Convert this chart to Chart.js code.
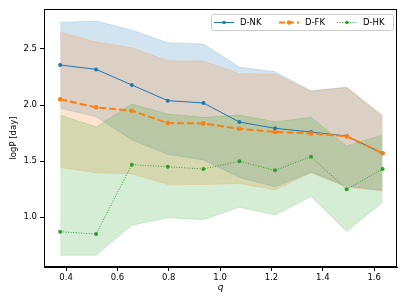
<!DOCTYPE html>
<html>
<head>
<meta charset="utf-8">
<script src="https://cdn.jsdelivr.net/npm/chart.js@4.4.0/dist/chart.umd.min.js"></script>
<style>
  html, body { margin: 0; padding: 0; background: #fff; }
  #wrap { width: 407px; height: 305px; }
</style>
</head>
<body>
<div id="wrap"><canvas id="c" width="407" height="305"></canvas></div>
<script>
// mass ratio bins
const q = [0.377, 0.517, 0.656, 0.796, 0.935, 1.075, 1.214, 1.354, 1.493, 1.633];

const nkMid = [2.357, 2.318, 2.179, 2.039, 2.018, 1.848, 1.792, 1.759, 1.723, 1.570];
const nkHi  = [2.738, 2.750, 2.670, 2.556, 2.545, 2.339, 2.297, 2.128, 2.158, 1.899];
const nkLo  = [1.970, 1.895, 1.690, 1.560, 1.510, 1.354, 1.270, 1.400, 1.277, 1.235];

const fkMid = [2.051, 1.979, 1.949, 1.839, 1.836, 1.788, 1.759, 1.747, 1.720, 1.569];
const fkHi  = [2.649, 2.563, 2.512, 2.396, 2.393, 2.280, 2.277, 2.122, 2.158, 1.905];
const fkLo  = [1.443, 1.396, 1.384, 1.292, 1.290, 1.300, 1.241, 1.396, 1.265, 1.235];

const hkMid = [0.869, 0.848, 1.467, 1.449, 1.429, 1.497, 1.417, 1.539, 1.247, 1.429];
const hkHi  = [1.911, 1.806, 2.009, 1.920, 1.890, 1.910, 1.851, 1.890, 1.634, 1.732];
const hkLo  = [0.658, 0.658, 0.926, 0.994, 0.976, 1.087, 1.018, 1.183, 0.872, 1.131];

const xTicks = [0.4, 0.6, 0.8, 1.0, 1.2, 1.4, 1.6];
const yTicks = [1.0, 1.5, 2.0, 2.5];
const seriesNames = ['D-NK', 'D-FK', 'D-HK'];

const BLUE = '#1f77b4', ORANGE = '#ff7f0e', GREEN = '#2ca02c';
const FONT = '"DejaVu Sans", sans-serif';

const pts = arr => arr.map((v, i) => ({ x: q[i], y: v }));

function band(data, color, fill) {
  return {
    data: pts(data), borderColor: color, borderWidth: 0.8, backgroundColor: color,
    pointRadius: 0, fill: fill, tension: 0, isBand: true
  };
}
function line(data, color, width, dash, radius) {
  return {
    data: pts(data), borderColor: color, backgroundColor: color, borderWidth: width,
    borderDash: dash, pointRadius: radius, pointBorderWidth: 0, pointBackgroundColor: color,
    fill: false, tension: 0
  };
}

// frame + axis labels + legend
const extras = {
  id: 'extras',
  afterDraw(chart) {
    const { ctx, chartArea: a } = chart;
    ctx.save();
    ctx.strokeStyle = '#000';
    ctx.lineWidth = 1;
    ctx.strokeRect(a.left + 0.5, a.top + 0.5, a.right - a.left - 1, a.bottom - a.top - 1);

    ctx.fillStyle = '#000';
    ctx.font = 'italic 9px ' + FONT;
    ctx.textAlign = 'center';
    ctx.textBaseline = 'middle';
    ctx.fillText('q', (a.left + a.right) / 2, 288);

    ctx.font = '8.5px ' + FONT;
    ctx.translate(14, (a.top + a.bottom) / 2);
    ctx.rotate(-Math.PI / 2);
    ctx.fillText('logP [day]', 0, 0);
    ctx.restore();

    // legend
    ctx.save();
    const bx = 211, by = 14, bw = 182, bh = 16;
    ctx.beginPath();
    ctx.roundRect(bx + 0.5, by + 0.5, bw, bh, 2);
    ctx.fillStyle = 'rgba(255,255,255,0.8)';
    ctx.fill();
    ctx.strokeStyle = '#cccccc';
    ctx.lineWidth = 1;
    ctx.stroke();
    const items = [
      { x: 214, color: BLUE, w: 1, dash: [], r: 1.8 },
      { x: 279, color: ORANGE, w: 2, dash: [6, 3], r: 2.2 },
      { x: 337, color: GREEN, w: 1, dash: [1, 1.6], r: 1.8 }
    ];
    const cy = by + bh / 2 + 0.5;
    items.forEach((it, i) => {
      ctx.beginPath();
      ctx.setLineDash(it.dash);
      ctx.strokeStyle = it.color;
      ctx.lineWidth = it.w;
      ctx.moveTo(it.x, cy);
      ctx.lineTo(it.x + 20, cy);
      ctx.stroke();
      ctx.setLineDash([]);
      ctx.beginPath();
      ctx.fillStyle = it.color;
      ctx.arc(it.x + 10, cy, it.r, 0, Math.PI * 2);
      ctx.fill();
      ctx.fillStyle = '#000';
      ctx.font = '8.5px ' + FONT;
      ctx.textAlign = 'left';
      ctx.textBaseline = 'middle';
      ctx.fillText(seriesNames[i], it.x + 26, cy);
    });
    ctx.restore();
  }
};

new Chart(document.getElementById('c'), {
  type: 'line',
  data: {
    datasets: [
      band(hkLo, 'rgba(44,160,44,0.2)', false),
      band(hkHi, 'rgba(44,160,44,0.2)', 0),
      band(fkLo, 'rgba(255,127,14,0.2)', false),
      band(fkHi, 'rgba(255,127,14,0.2)', 2),
      band(nkLo, 'rgba(31,119,180,0.2)', false),
      band(nkHi, 'rgba(31,119,180,0.2)', 4),
      line(hkMid, GREEN, 1, [1, 1.6], 2),
      line(fkMid, ORANGE, 2, [7, 3], 2.3),
      line(nkMid, BLUE, 1, [], 2)
    ]
  },
  options: {
    responsive: false,
    animation: false,
    devicePixelRatio: 1,
    layout: { padding: { top: 9, right: 10, left: 0, bottom: 0 } },
    plugins: {
      legend: { display: false },
      tooltip: { enabled: false },
      filler: { drawTime: 'beforeDatasetsDraw', propagate: false }
    },
    scales: {
      x: {
        type: 'linear', min: 0.314, max: 1.689,
        afterBuildTicks: s => { s.ticks = xTicks.map(v => ({ value: v })); },
        afterFit: s => { s.height = 38; },
        grid: { drawOnChartArea: false, drawTicks: true, tickLength: 4, tickColor: '#000' },
        border: { display: true, color: '#000', width: 1 },
        ticks: { color: '#000', padding: 2, maxRotation: 0, font: { family: FONT, size: 8.5 },
                 callback: v => v.toFixed(1) }
      },
      y: {
        type: 'linear', min: 0.554, max: 2.857,
        afterBuildTicks: s => { s.ticks = yTicks.map(v => ({ value: v })); },
        afterFit: s => { s.width = 44; },
        grid: { drawOnChartArea: false, drawTicks: true, tickLength: 4, tickColor: '#000' },
        border: { display: true, color: '#000', width: 1 },
        ticks: { color: '#000', padding: 3, font: { family: FONT, size: 8.5 },
                 callback: v => v.toFixed(1) }
      }
    }
  },
  plugins: [extras]
});
</script>
</body>
</html>
